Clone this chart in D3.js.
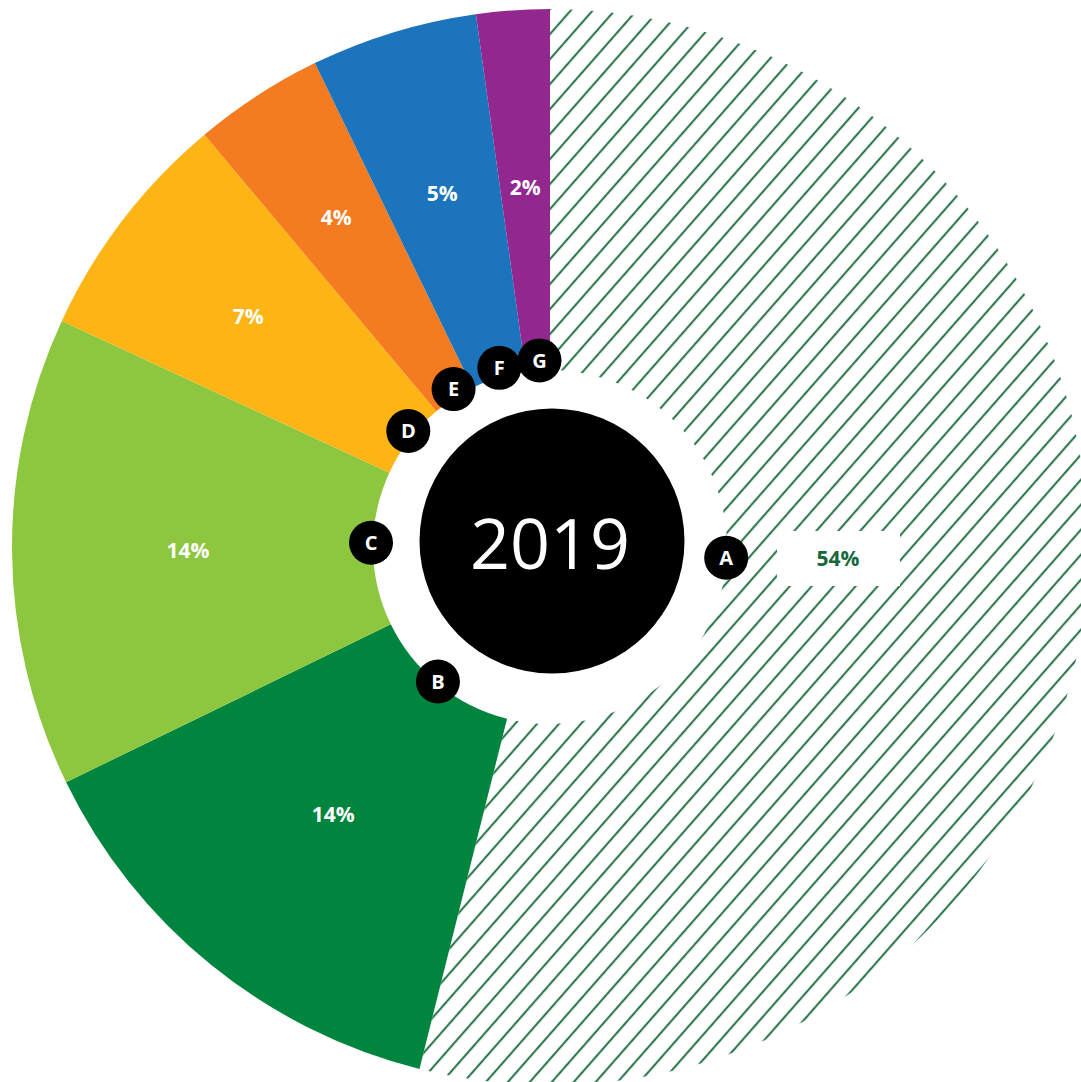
<!DOCTYPE html>
<html>
<head>
<meta charset="utf-8">
<script src="https://cdn.jsdelivr.net/npm/d3@7"></script>
<style>
body { margin: 0; background: #ffffff; }
svg { display: block; }
text { font-family: "Open Sans", "Noto Sans", sans-serif; }
</style>
</head>
<body>
<svg id="chart" width="1081" height="1082"></svg>
<script>
// data, clockwise from 12 o'clock (shares)
var categories = ["A", "B", "C", "D", "E", "F", "G"];
var shares = [53.9, 13.9, 14.1, 7.0, 3.9, 5.0, 2.2];
var colors = ["hatch", "#00853e", "#8dc63f", "#fdb515", "#f47b20", "#1c75bc", "#92278f"];
var year = "2019";

// layout tweaks for the labels (radius of each percentage label)
var labelRadius = [0, 344, 362, 380, 393, 370, 360];

var svg, width, height;
var cx = 550, cy = 547;
var outerR = 538, innerR = 177;
var discX = 552, discY = 541;
var badgeR = 181;
var hatchColor = "#16693a";

var setup = function() {
    svg = d3.select("#chart");
    width = +svg.attr("width");
    height = +svg.attr("height");

    var defs = svg.append("defs");
    var pat = defs.append("pattern")
	.attr("id", "hatch")
	.attr("patternUnits", "userSpaceOnUse")
	.attr("width", 16.5)
	.attr("height", 16.5)
	.attr("patternTransform", "rotate(41.3)");
    pat.append("line")
	.attr("x1", 8).attr("y1", -2)
	.attr("x2", 8).attr("y2", 19)
	.attr("stroke", hatchColor)
	.attr("stroke-width", 1.9);

    var pie = d3.pie().sort(null).value(function(d) { return d; });
    var arcs = pie(shares);
    var arc = d3.arc().innerRadius(innerR).outerRadius(outerR);

    var g = svg.append("g").attr("transform", "translate(" + cx + "," + cy + ")");

    g.selectAll("path.slice")
	.data(arcs)
	.enter().append("path")
	.attr("class", "slice")
	.attr("d", arc)
	.attr("fill", function(d, i) {
	    return colors[i] == "hatch" ? "url(#hatch)" : colors[i];
	});

    // percentage labels inside coloured slices
    g.selectAll("text.pct")
	.data(arcs.slice(1))
	.enter().append("text")
	.attr("class", "pct")
	.attr("transform", function(d, i) {
	    var r = labelRadius[i + 1];
	    var a = (d.startAngle + d.endAngle) / 2;
	    return "translate(" + (r * Math.sin(a)) + "," + (-r * Math.cos(a)) + ")";
	})
	.attr("text-anchor", "middle")
	.attr("dy", "0.36em")
	.attr("fill", "#ffffff")
	.attr("font-size", 21)
	.attr("font-weight", 700)
	.text(function(d) { return Math.round(d.data) + "%"; });

    // outside label of the hatched slice
    var aLabel = g.append("g").attr("transform", "translate(288,11)");
    aLabel.append("rect")
	.attr("x", -61).attr("y", -27)
	.attr("width", 123).attr("height", 55)
	.attr("fill", "#ffffff");
    aLabel.append("text")
	.attr("text-anchor", "middle")
	.attr("dy", "0.36em")
	.attr("fill", hatchColor)
	.attr("font-size", 21)
	.attr("font-weight", 700)
	.text(Math.round(shares[0]) + "%");

    // letter badges round the centre disc
    var badgePos = function(d, i) {
	var a = (d.startAngle + d.endAngle) / 2, r = badgeR;
	if (i == 0) { a = 95.5 * Math.PI / 180; r = 175; }
	return [discX + r * Math.sin(a), discY - r * Math.cos(a)];
    };
    var badges = svg.selectAll("g.badge")
	.data(arcs)
	.enter().append("g")
	.attr("class", "badge")
	.attr("transform", function(d, i) {
	    var p = badgePos(d, i);
	    return "translate(" + p[0] + "," + p[1] + ")";
	});
    badges.append("circle")
	.attr("r", 22)
	.attr("fill", "#000000");
    badges.append("text")
	.attr("text-anchor", "middle")
	.attr("dy", "0.36em")
	.attr("fill", "#ffffff")
	.attr("font-size", 20)
	.attr("font-weight", 700)
	.text(function(d, i) { return categories[i]; });

    // centre disc with the year
    svg.append("circle")
	.attr("cx", discX).attr("cy", discY)
	.attr("r", 132.5)
	.attr("fill", "#000000");
    svg.append("text")
	.attr("x", 550).attr("y", 569)
	.attr("text-anchor", "middle")
	.attr("fill", "#ffffff")
	.attr("font-size", 70)
	.attr("font-weight", 400)
	.text(year);
};

window.onload = setup;
</script>
</body>
</html>
